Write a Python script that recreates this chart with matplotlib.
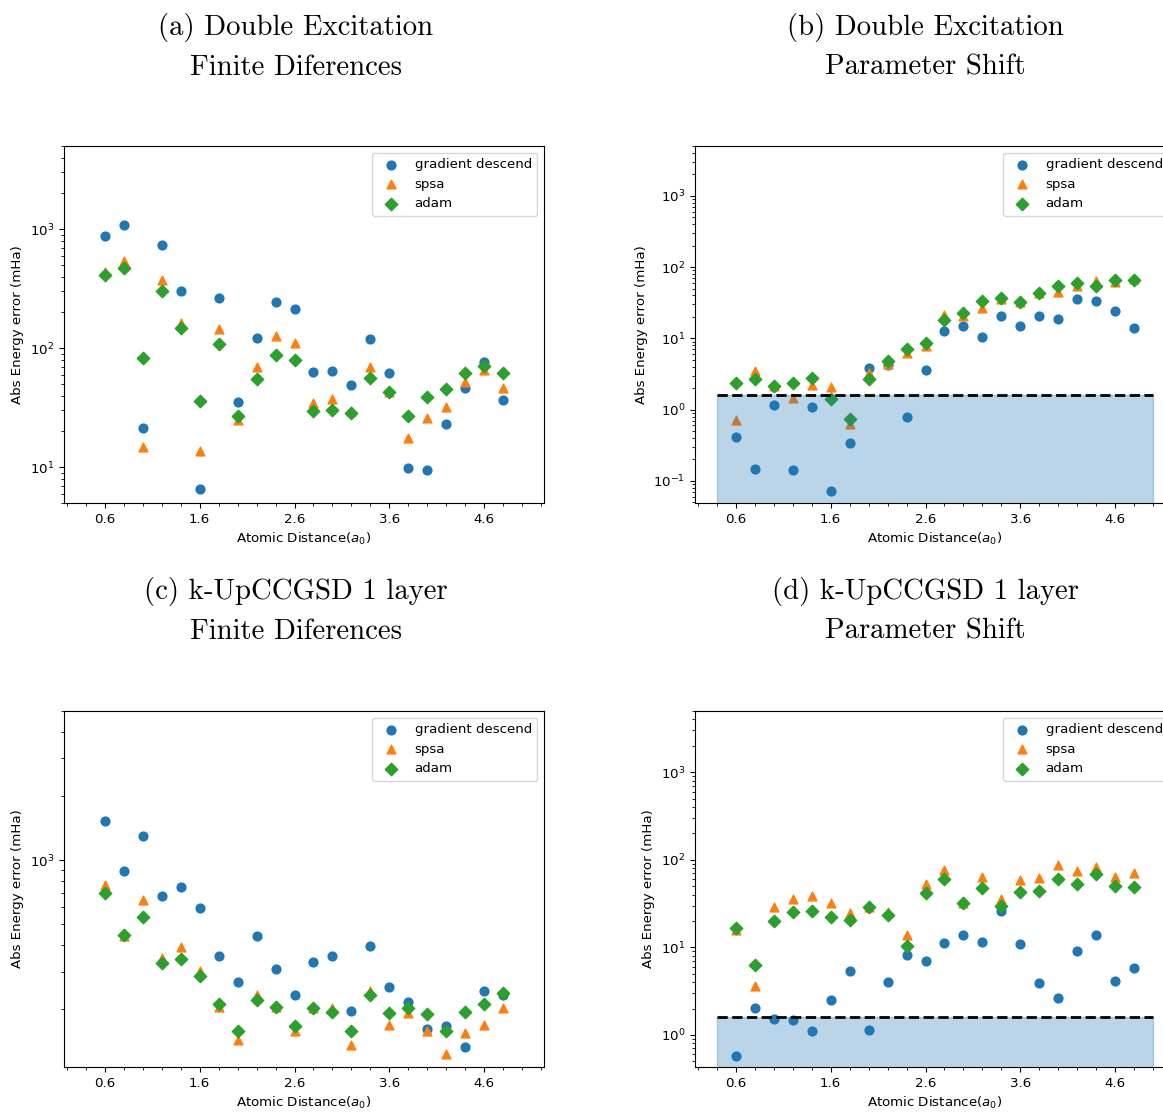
import matplotlib
matplotlib.use('Agg')
import matplotlib.pyplot as plt
import numpy as np

distances = np.round(np.arange(0.6, 4.81, 0.2), 1)

# double excitation, finite differences
de_fd_gd = [868, 1080, 21.5, 734, 300, 6.5, 262, 35, 122, 244, 213, 63.5, 64.7, 49, 120, 62, 9.8, 9.5, 23, 46, 77, 37]
de_fd_spsa = [438, 542, 14.7, 376, 164, 13.7, 144, 25, 69, 126, 111, 34.4, 37.7, 29.9, 70, 43, 17.7, 26, 32.3, 51.7, 65.6, 46]
de_fd_adam = [411, 468, 82.6, 300, 148, 36, 109, 26.8, 55, 87, 80, 29.5, 30.5, 28.6, 56.5, 42.6, 27, 39.2, 45.7, 61.5, 71.3, 62]

# double excitation, parameter shift
de_ps_gd = [0.41, 0.147, 1.18, 0.144, 1.10, 0.072, 0.34, 3.79, 4.2, 0.79, 3.63, 12.6, 14.8, 10.5, 20.6, 14.8, 20.6, 18.9, 35.2, 33, 24.2, 13.9]
de_ps_spsa = [0.72, 3.44, 2.17, 1.47, 2.22, 2.06, 0.625, 3.22, 4.3, 6.3, 7.9, 21.5, 20.6, 26.4, 35.6, 32.7, 42.8, 44.6, 54.7, 64.3, 61.5, 67]
de_ps_adam = [2.34, 2.72, 2.17, 2.34, 2.81, 1.40, 0.743, 2.69, 4.8, 7.2, 8.65, 18.1, 22.9, 33, 37.2, 32.7, 43.7, 53.6, 59, 54, 65.6, 65.6]

# k-UpCCGSD, finite differences
up_fd_gd = [1531, 885, 1298, 675, 748, 598, 356, 268, 441, 307, 232, 334, 356, 195, 395, 255, 215, 161, 166, 133, 242, 232]
up_fd_spsa = [765, 441, 653, 346, 393, 303, 205, 143, 233, 205, 157, 203, 203, 135, 244, 168, 191, 157, 123, 155, 168, 203]
up_fd_adam = [702, 446, 541, 330, 345, 286, 212, 158, 221, 205, 167, 202, 194, 158, 234, 192, 202, 189, 158, 194, 212, 238]

# k-UpCCGSD, parameter shift
up_ps_gd = [0.567, 2.01, 1.51, 1.48, 1.12, 2.52, 5.34, 1.15, 4.07, 8.25, 6.93, 11.2, 13.7, 11.5, 26.3, 10.9, 3.9, 2.65, 9.17, 13.7, 4.18, 5.82]
up_ps_spsa = [15.9, 3.6, 29.2, 35.7, 39, 32.2, 24.5, 28.7, 25.6, 13.9, 52.5, 76.4, 31.9, 64.1, 35.7, 59.3, 62.4, 86.9, 75, 81.8, 64.1, 70]
up_ps_adam = [16.7, 6.24, 20.1, 25.2, 26.3, 22.3, 20.3, 28.7, 23.1, 10.3, 41.4, 60.8, 32.5, 48.1, 30, 42.6, 44, 60.8, 52.9, 69.3, 50.7, 48.5]

chem_acc = 1.6

titles = ['(a) Double Excitation\nFinite Diferences',
          '(b) Double Excitation\nParameter Shift',
          '(c) k-UpCCGSD 1 layer\nFinite Diferences',
          '(d) k-UpCCGSD 1 layer\nParameter Shift']
results = [(de_fd_gd, de_fd_spsa, de_fd_adam),
           (de_ps_gd, de_ps_spsa, de_ps_adam),
           (up_fd_gd, up_fd_spsa, up_fd_adam),
           (up_ps_gd, up_ps_spsa, up_ps_adam)]
shade = [False, True, False, True]
ylims = [(5.0, 5000), (0.049, 5000), (107, 5000), (0.43, 5000)]

W, H = 1163, 1112
fig = plt.figure(figsize=(W / 100, H / 100), dpi=100)
plt.rcParams['font.size'] = 9.6

# axes boxes in pixels: left, top, width, height
boxes = [(64, 146, 480, 357), (695, 146, 480, 357),
         (64, 711, 480, 356), (695, 711, 480, 356)]
title_x = [296, 925, 296, 925]
title_y = [47, 47, 611, 611]

for k in range(4):
    l, t, w, h = boxes[k]
    ax = fig.add_axes([l / W, 1 - (t + h) / H, w / W, h / H])
    gd, spsa, adam = results[k]
    ax.scatter(distances, gd, s=40, label='gradient descend')
    ax.scatter(distances, spsa, s=40, marker='^', label='spsa')
    ax.scatter(distances, adam, s=40, marker='D', label='adam')
    ax.set_yscale('log')
    if shade[k]:
        # chemical accuracy band
        ax.fill_between([0.4, 5.0], 1e-3, chem_acc, color='C0', alpha=0.3)
        ax.plot([0.4, 5.0], [chem_acc, chem_acc], 'k--', lw=2)
    ax.set_xlim(0.17, 5.23)
    ax.set_ylim(*ylims[k])
    ax.set_xticks(np.arange(0.6, 4.7, 1.0))
    ax.set_xticks(np.arange(0.2, 5.25, 0.2), minor=True)
    ax.set_xlabel('Atomic Distance($a_0$)')
    ax.set_ylabel('Abs Energy error (mHa)')
    ax.legend(loc='upper right')
    fig.text(title_x[k] / W, 1 - title_y[k] / H, titles[k], family='cmr10',
             fontsize=20.7, ha='center', va='center', linespacing=1.6)

fig.savefig('out.png', dpi=100)
